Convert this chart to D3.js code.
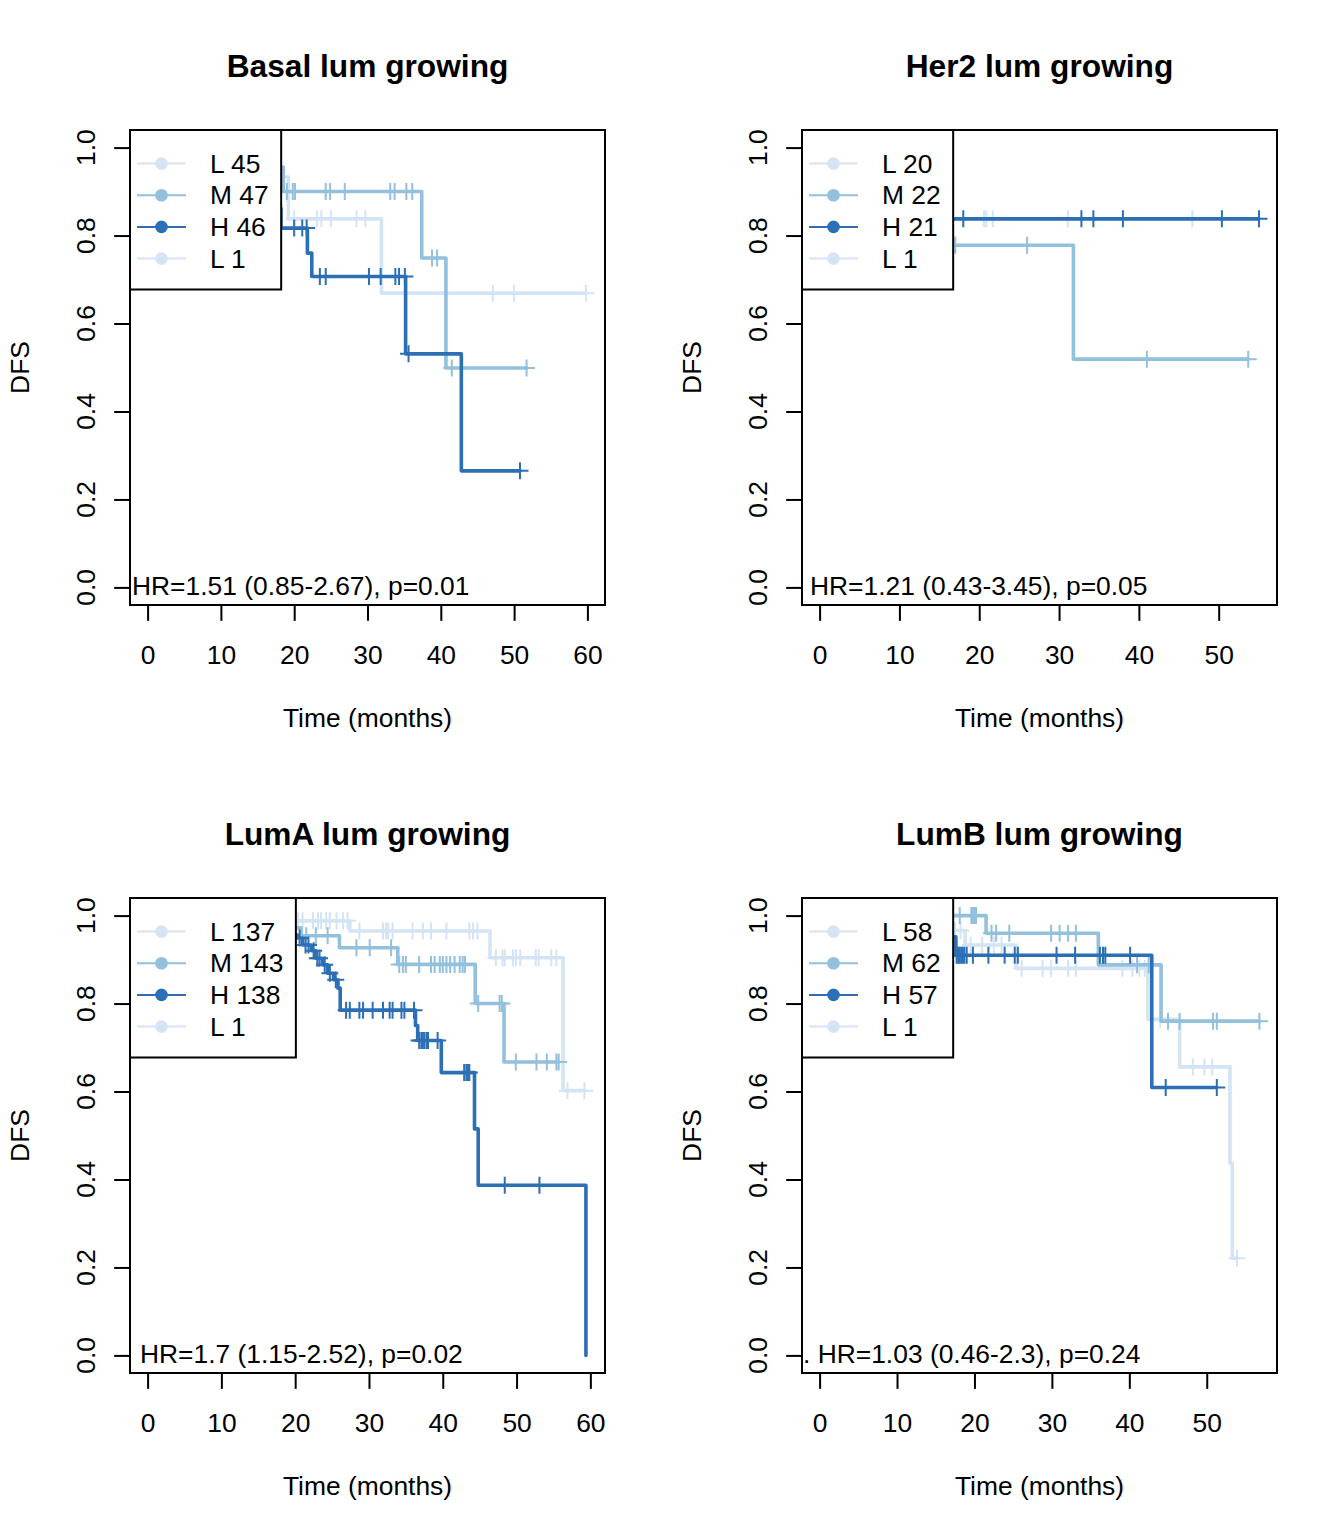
<!DOCTYPE html>
<html><head><meta charset="utf-8">
<script src="https://cdn.jsdelivr.net/npm/d3@7"></script>
<style>
body{margin:0;background:#fff}
svg{display:block}
text{font-family:"Liberation Sans",Arial,Helvetica,sans-serif;fill:#000}
</style>
</head><body>
<svg id="chart" width="1344" height="1536"></svg>
<script>
// ---------------- DATA ----------------
const panelTitles = ["Basal lum growing", "Her2 lum growing", "LumA lum growing", "LumB lum growing"];
const hrLabels = ["HR=1.51 (0.85-2.67), p=0.01", "HR=1.21 (0.43-3.45), p=0.05", "HR=1.7 (1.15-2.52), p=0.02", ". HR=1.03 (0.46-2.3), p=0.24"];
const groupNames = ["L", "M", "H", "L"];
const groupSizes = [[45, 47, 46, 1], [20, 22, 21, 1], [137, 143, 138, 1], [58, 62, 57, 1]];
const timeMax = [60, 55.1, 59.6, 56.8];
const xTickValues = [[0, 10, 20, 30, 40, 50, 60], [0, 10, 20, 30, 40, 50], [0, 10, 20, 30, 40, 50, 60], [0, 10, 20, 30, 40, 50]];
const yTickValues = [0, 0.2, 0.4, 0.6, 0.8, 1.0];
const xLabel = "Time (months)";
const yLabel = "DFS";

// Basal
const basal_L_time = [8, 13, 16, 19.2, 31.9];
const basal_L_surv = [0.978, 0.956, 0.933, 0.838, 0.669];
const basal_L_cens = [20.0, 23.1, 23.7, 25.0, 28.5, 29.7, 47.1, 50.0, 59.8];
const basal_M_time = [7, 12, 18.5, 37.4, 40.7];
const basal_M_surv = [0.978, 0.956, 0.900, 0.749, 0.499];
const basal_M_cens = [19.0, 19.8, 20.1, 24.3, 24.9, 26.9, 33.1, 33.7, 35.3, 36.1, 38.8, 39.5, 41.5, 51.7];
const basal_H_time = [4, 9, 12, 14, 16.5, 18.2, 21.8, 22.4, 35.2, 42.8];
const basal_H_surv = [0.978, 0.955, 0.932, 0.908, 0.862, 0.817, 0.760, 0.707, 0.531, 0.265];
const basal_H_cens = [20.0, 21.1, 21.7, 23.5, 24.3, 30.2, 31.8, 33.8, 34.3, 35.1, 35.6, 50.8];
const basal_L1_time = [];
const basal_L1_surv = [];
const basal_L1_cens = [3];

// Her2
const her2_L_time = [8, 12, 15];
const her2_L_surv = [0.950, 0.895, 0.838];
const her2_L_cens = [20.6, 20.9, 21.7, 31.1, 46.7];
const her2_M_time = [5, 9, 12, 14, 16, 31.8];
const her2_M_surv = [0.955, 0.909, 0.864, 0.820, 0.778, 0.519];
const her2_M_cens = [17.0, 26.0, 41.0, 53.7];
const her2_H_time = [5, 10, 14];
const her2_H_surv = [0.952, 0.895, 0.838];
const her2_H_cens = [18.0, 32.8, 34.3, 38.0, 50.4, 55.05];
const her2_L1_time = [];
const her2_L1_surv = [];
const her2_L1_cens = [2];

// LumA
const lumA_L_time = [10, 15, 27.4, 46.4, 56.3];
const lumA_L_surv = [0.993, 0.988, 0.965, 0.904, 0.602];
const lumA_L_cens = [20.4, 21.0, 22.4, 23.1, 23.5, 24.2, 24.7, 25.6, 26.5, 27.1, 28.7, 31.9, 32.3, 32.6, 33.2, 35.9, 37.3, 38.4, 40.5, 43.6, 44.1, 44.7, 47.2, 48.1, 48.4, 49.5, 49.9, 50.5, 52.6, 53.0, 54.7, 55.4, 56.9, 59.2];
const lumA_M_time = [6, 12, 16, 18, 20.8, 26.0, 33.9, 44.4, 48.3];
const lumA_M_surv = [0.993, 0.986, 0.979, 0.972, 0.954, 0.927, 0.889, 0.800, 0.667];
const lumA_M_cens = [21.5, 22.8, 24.4, 28.3, 30.1, 33.0, 34.1, 34.6, 35.0, 36.8, 38.4, 38.9, 39.6, 40.0, 40.5, 41.0, 41.6, 42.3, 42.7, 43.0, 44.8, 47.7, 48.0, 49.9, 52.7, 54.1, 55.4, 55.7];
const lumA_H_time = [5, 9, 12, 15, 17, 19, 20.3, 21.0, 22.2, 22.8, 23.7, 24.4, 25.2, 25.8, 26.1, 36.3, 36.6, 39.8, 44.3, 44.8, 59.4];
const lumA_H_surv = [0.993, 0.985, 0.978, 0.971, 0.963, 0.956, 0.949, 0.933, 0.920, 0.903, 0.888, 0.869, 0.854, 0.835, 0.785, 0.750, 0.716, 0.643, 0.515, 0.387, 0];
const lumA_H_cens = [20.6, 21.4, 21.8, 22.5, 23.0, 23.3, 24.0, 24.7, 25.5, 26.9, 27.4, 28.7, 29.2, 30.5, 31.9, 32.8, 33.2, 34.4, 34.8, 36.1, 36.8, 37.1, 37.3, 37.5, 37.8, 38.0, 39.3, 42.9, 43.2, 43.4, 43.6, 48.4, 53.1];
const lumA_L1_time = [];
const lumA_L1_surv = [];
const lumA_L1_cens = [3];

// LumB
const lumB_L_time = [10, 14, 18.8, 25.4, 42.4, 46.5, 53.0, 53.3];
const lumB_L_surv = [0.983, 0.966, 0.933, 0.880, 0.764, 0.656, 0.437, 0.221];
const lumB_L_cens = [17.5, 18.2, 19.5, 21.0, 22.5, 23.5, 26.1, 28.8, 29.9, 32.1, 33.1, 39.1, 40.4, 41.3, 42.0, 44.0, 48.2, 49.7, 50.7, 53.9];
const lumB_M_time = [21.5, 36.0, 44.1];
const lumB_M_surv = [0.960, 0.888, 0.760];
const lumB_M_cens = [18.1, 19.6, 19.8, 20.0, 20.2, 22.2, 22.8, 24.5, 29.9, 31.0, 32.1, 33.1, 41.0, 42.5, 45.0, 46.5, 50.8, 51.3, 56.8];
const lumB_H_time = [8, 13, 16, 17.6, 42.9];
const lumB_H_surv = [0.982, 0.965, 0.952, 0.910, 0.609];
const lumB_H_cens = [17.7, 17.9, 18.1, 18.3, 18.5, 18.7, 19.0, 19.8, 21.8, 23.9, 25.2, 25.6, 30.6, 33.0, 36.2, 36.6, 36.9, 40.1, 44.7, 51.3];
const lumB_L1_time = [];
const lumB_L1_surv = [];
const lumB_L1_cens = [3];

// ---------------- STYLE / LAYOUT ----------------
const groupColors = ["#d4e4f4", "#92c0dd", "#2c6fb4", "#d4e4f4"];
const panelW = 672, panelH = 768;
const plotL = 130, plotR = 605, plotT = 130, plotB = 605;
const fs = 26.4, lineH = 31.7;
const hrTextX = [132, 138, 140, 131];

const panelCurves = [
  [[basal_L_time, basal_L_surv, basal_L_cens], [basal_M_time, basal_M_surv, basal_M_cens], [basal_H_time, basal_H_surv, basal_H_cens], [basal_L1_time, basal_L1_surv, basal_L1_cens]],
  [[her2_L_time, her2_L_surv, her2_L_cens], [her2_M_time, her2_M_surv, her2_M_cens], [her2_H_time, her2_H_surv, her2_H_cens], [her2_L1_time, her2_L1_surv, her2_L1_cens]],
  [[lumA_L_time, lumA_L_surv, lumA_L_cens], [lumA_M_time, lumA_M_surv, lumA_M_cens], [lumA_H_time, lumA_H_surv, lumA_H_cens], [lumA_L1_time, lumA_L1_surv, lumA_L1_cens]],
  [[lumB_L_time, lumB_L_surv, lumB_L_cens], [lumB_M_time, lumB_M_surv, lumB_M_cens], [lumB_H_time, lumB_H_surv, lumB_H_cens], [lumB_L1_time, lumB_L1_surv, lumB_L1_cens]]
];

const svg = d3.select("#chart");

function survAt(times, survs, t) {
  let s = 1;
  for (let i = 0; i < times.length; i++) if (times[i] <= t) s = survs[i];
  return s;
}

panelTitles.forEach((title, p) => {
  const col = p % 2, row = Math.floor(p / 2);
  const g = svg.append("g").attr("transform", `translate(${col * panelW},${row * panelH})`);
  const tm = timeMax[p];
  const x = d3.scaleLinear().domain([-0.04 * tm, 1.04 * tm]).range([plotL, plotR]);
  const y = d3.scaleLinear().domain([-0.04, 1.04]).range([plotB, plotT]);

  const clipId = "clip" + p;
  g.append("clipPath").attr("id", clipId).append("rect")
    .attr("x", plotL).attr("y", plotT).attr("width", plotR - plotL).attr("height", plotB - plotT);

  const curveG = g.append("g").attr("clip-path", `url(#${clipId})`);
  const line = d3.line().x(d => x(d[0])).y(d => y(d[1]));

  panelCurves[p].forEach(([times, survs, cens], gi) => {
    const color = groupColors[gi];
    const pts = [[0, 1]];
    let s = 1;
    times.forEach((t, i) => { pts.push([t, s]); s = survs[i]; pts.push([t, s]); });
    const tEnd = Math.max(times.length ? times[times.length - 1] : 0, cens.length ? d3.max(cens) : 0);
    pts.push([tEnd, s]);
    curveG.append("path").attr("d", line(pts)).attr("fill", "none")
      .attr("stroke", color).attr("stroke-width", 3.6)
      .attr("stroke-linecap", "round").attr("stroke-linejoin", "round");
    const h = 8.5;
    curveG.append("g").selectAll("path").data(cens).join("path")
      .attr("d", t => {
        const cx = x(t), cy = y(survAt(times, survs, t));
        return `M${cx - h},${cy}H${cx + h}M${cx},${cy - h}V${cy + h}`;
      })
      .attr("fill", "none").attr("stroke", color).attr("stroke-width", 2);
  });

  // box
  g.append("rect").attr("x", plotL).attr("y", plotT).attr("width", plotR - plotL).attr("height", plotB - plotT)
    .attr("fill", "none").attr("stroke", "#000").attr("stroke-width", 2);

  // x axis
  const xAxis = g.append("g").attr("transform", `translate(0,${plotB})`)
    .call(d3.axisBottom(x).tickValues(xTickValues[p]).tickSize(15.85).tickSizeOuter(0).tickPadding(24.5).tickFormat(d3.format("d")));
  xAxis.select(".domain").remove();
  xAxis.append("line").attr("x1", x(xTickValues[p][0])).attr("x2", x(xTickValues[p][xTickValues[p].length - 1]))
    .attr("stroke", "#000").attr("stroke-width", 2);
  xAxis.selectAll(".tick line").attr("stroke-width", 2);
  xAxis.selectAll("text").attr("font-size", fs).attr("font-family", "Liberation Sans, Arial, sans-serif").attr("fill", "#000");

  // y axis
  const yAxis = g.append("g").attr("transform", `translate(${plotL},0)`)
    .call(d3.axisLeft(y).tickValues(yTickValues).tickSize(15.85).tickSizeOuter(0).tickFormat(""));
  yAxis.select(".domain").remove();
  yAxis.append("line").attr("y1", y(0)).attr("y2", y(1)).attr("stroke", "#000").attr("stroke-width", 2);
  yAxis.selectAll(".tick line").attr("stroke-width", 2);
  g.append("g").selectAll("text").data(yTickValues).join("text")
    .attr("transform", d => `translate(${plotL - lineH - 3},${y(d)}) rotate(-90)`)
    .attr("text-anchor", "middle").attr("font-size", fs)
    .text(d => d3.format(".1f")(d));

  // axis titles
  g.append("text").attr("x", (plotL + plotR) / 2).attr("y", 727).attr("text-anchor", "middle")
    .attr("font-size", fs).text(xLabel);
  g.append("text").attr("transform", `translate(29,${(plotT + plotB) / 2}) rotate(-90)`)
    .attr("text-anchor", "middle").attr("font-size", fs).text(yLabel);

  // title
  g.append("text").attr("x", (plotL + plotR) / 2).attr("y", 77).attr("text-anchor", "middle")
    .attr("font-size", 31.7).attr("font-weight", "bold").text(title);

  // HR text
  g.append("text").attr("x", hrTextX[p]).attr("y", y(0) - 2).attr("dy", "0.35em")
    .attr("font-size", fs).text(hrLabels[p]);

  // legend
  const leg = g.append("g");
  const legRect = leg.append("rect").attr("x", plotL).attr("y", plotT).attr("height", 159.5)
    .attr("fill", "#fff").attr("stroke", "#000").attr("stroke-width", 2);
  let maxW = 0;
  groupNames.forEach((nm, i) => {
    const cy = plotT + 33.5 + i * lineH;
    leg.append("line").attr("x1", 137).attr("x2", 186).attr("y1", cy).attr("y2", cy)
      .attr("stroke", groupColors[i]).attr("stroke-width", 2);
    leg.append("circle").attr("cx", 161.5).attr("cy", cy).attr("r", 6.3).attr("fill", groupColors[i]);
    const t = leg.append("text").attr("x", 210).attr("y", cy).attr("dy", "0.35em")
      .attr("font-size", fs).text(nm + " " + groupSizes[p][i]);
    maxW = Math.max(maxW, t.node().getComputedTextLength());
  });
  legRect.attr("width", 210 - plotL + maxW + 12.5);
});
</script>
</body></html>
